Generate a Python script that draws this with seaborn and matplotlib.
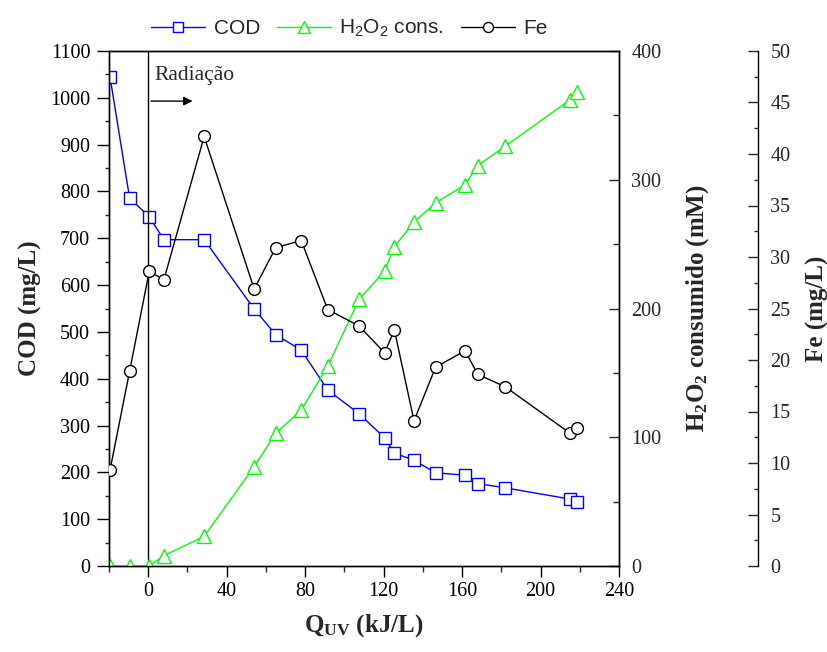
import numpy as np
import pandas as pd
import seaborn as sns
import matplotlib
matplotlib.use("Agg")
import matplotlib.pyplot as plt
from matplotlib.ticker import MultipleLocator

# ---- data ----
q_uv = [-19.5, -9.5, 0.5, 8.0, 28.5, 54.0, 65.0, 78.0, 91.5, 107.5,
        120.5, 125.5, 135.5, 146.5, 161.5, 168.0, 182.0, 215.0, 218.5]
cod = [1045, 786, 746, 697, 697, 549, 494, 461, 376, 325,
       274, 241, 226, 199, 194, 176, 167, 143, 137]
h2o2 = [0, 0, 0, 8, 23, 77, 103, 121, 155, 207,
        229, 248, 267, 282, 296, 311, 326, 362, 368]
fe = [9.3, 18.9, 28.6, 27.8, 41.7, 26.9, 30.9, 31.6, 24.9, 23.3,
      20.7, 22.9, 14.1, 19.3, 20.9, 18.6, 17.4, 12.9, 13.4]

x_ticks = [0, 40, 80, 120, 160, 200, 240]
series_labels = ["COD", "H$_2$O$_2$ cons.", "Fe"]

df = pd.DataFrame({"q": q_uv, "cod": cod, "h2o2": h2o2, "fe": fe})

sns.set_style("ticks")
plt.rcParams["font.family"] = ["Liberation Serif", "DejaVu Serif"]
plt.rcParams["mathtext.default"] = "regular"

fig = plt.figure(figsize=(8.28, 6.52), dpi=100)
ax = fig.add_axes([109 / 828, 1 - 566 / 652, (619 - 109) / 828, (566 - 51) / 652])
ax2 = ax.twinx()
ax3 = ax.twinx()

common = dict(linewidth=1, markersize=8.5, markerfacecolor="white",
              markeredgewidth=1.0, sort=False, estimator=None)
sns.lineplot(data=df, x="q", y="cod", ax=ax, color="#0000FF", marker="s",
             markeredgecolor="#0000FF", label=series_labels[0], legend=False, **common)
sns.lineplot(data=df, x="q", y="h2o2", ax=ax2, color="#00FF00", marker="^",
             markeredgecolor="#00FF00", label=series_labels[1], legend=False,
             **{**common, "markersize": 9.5})
sns.lineplot(data=df, x="q", y="fe", ax=ax3, color="black", marker="o",
             markeredgecolor="black", label=series_labels[2], legend=False, **common)

# axes ranges and ticks
ax.set_xlim(-20, 240)
ax.set_ylim(0, 1100)
ax2.set_ylim(0, 400)
ax3.set_ylim(0, 50)
ax.set_xticks(x_ticks)
ax.xaxis.set_minor_locator(MultipleLocator(20))
ax.yaxis.set_major_locator(MultipleLocator(100))
ax.yaxis.set_minor_locator(MultipleLocator(50))
ax2.yaxis.set_major_locator(MultipleLocator(100))
ax2.yaxis.set_minor_locator(MultipleLocator(50))
ax3.yaxis.set_major_locator(MultipleLocator(5))
ax3.yaxis.set_minor_locator(MultipleLocator(2.5))

tick_fs = 14.5
ax.tick_params(axis="both", which="major", direction="out", length=8, width=1,
               labelsize=tick_fs, colors="black")
ax.tick_params(axis="both", which="minor", direction="out", length=4, width=1)
ax.tick_params(axis="y", which="major", length=8.5, pad=5)
ax.tick_params(axis="y", which="minor", length=3)
ax.tick_params(top=False, right=False, which="both")
ax2.tick_params(axis="y", which="major", direction="in", length=7, width=1,
                labelsize=tick_fs, pad=9)
ax2.tick_params(axis="y", which="minor", direction="in", length=4, width=1)
ax3.tick_params(axis="y", which="major", direction="in", length=7, width=1,
                labelsize=tick_fs, pad=9)
ax3.tick_params(axis="y", which="minor", direction="in", length=3, width=1)

ax3.spines["right"].set_position(("axes", (758 - 109) / (619 - 109)))
for s in ["left", "top", "bottom"]:
    ax3.spines[s].set_visible(False)
for a in (ax, ax2, ax3):
    for sp in a.spines.values():
        sp.set_linewidth(1)
        sp.set_color("black")

lab_fs = 18
ax.set_xlabel("Q$_{UV}$ (kJ/L)", fontsize=lab_fs, fontweight="bold", labelpad=8)
ax.set_ylabel("COD (mg/L)", fontsize=lab_fs, fontweight="bold", labelpad=6)
ax2.set_ylabel("H$_2$O$_2$ consumido (mM)", fontsize=lab_fs, fontweight="bold", labelpad=16)
ax3.set_ylabel("Fe (mg/L)", fontsize=lab_fs, fontweight="bold", labelpad=11)

# radiation start marker
ax.axvline(0, color="black", linewidth=1)
ax.annotate("", xy=(24, 993), xytext=(0, 993),
            arrowprops=dict(arrowstyle="-|>", color="black", lw=1, mutation_scale=13))
ax.text(3, 1048, "Radiação", fontsize=15.5, ha="left", va="center")

# legend
handles = [ax.get_lines()[0], ax2.get_lines()[0], ax3.get_lines()[0]]
fig.legend(handles, series_labels, loc="center", bbox_to_anchor=(0.422, 0.956),
           ncol=3, frameon=False, handlelength=2.6, handletextpad=0.4,
           columnspacing=0.8, markerscale=0.85,
           prop={"family": ["Liberation Sans"], "size": 15})

fig.savefig("out.png", dpi=100)
